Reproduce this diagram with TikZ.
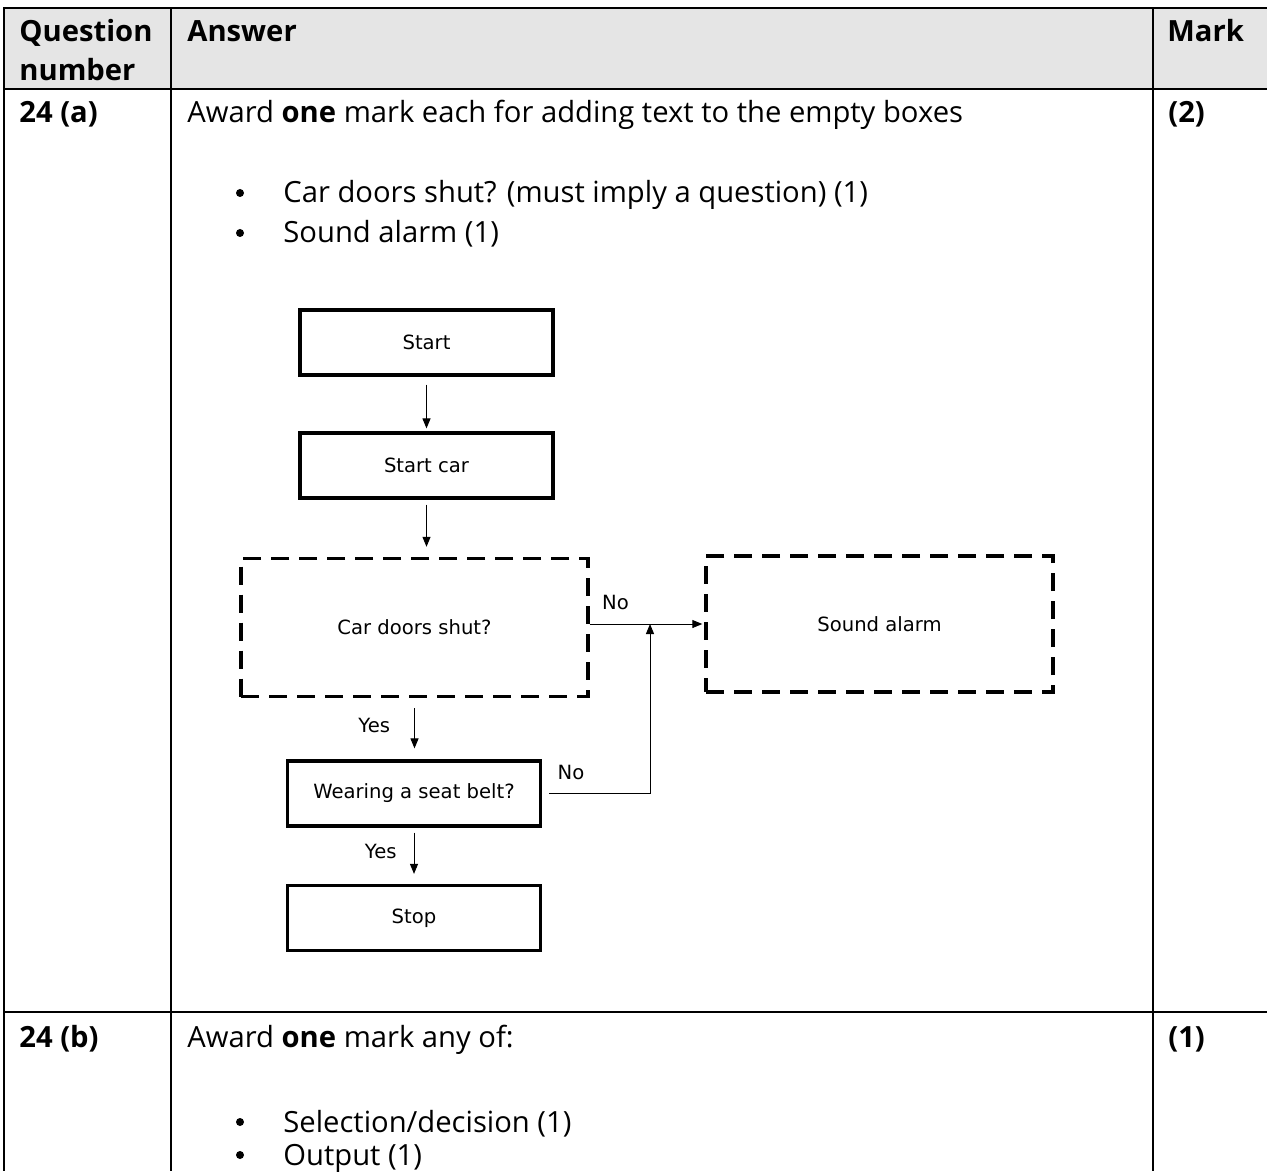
\documentclass[tikz,border=0pt]{standalone}
\usepackage{fontspec}
\setmainfont{Open Sans}
\newfontfamily\chartfont{DejaVu Sans}
\usetikzlibrary{arrows.meta,positioning}

\begin{document}
\begin{tikzpicture}[x=0.5pt,y=-0.5pt,
  cell/.style={anchor=base west,inner sep=0pt,font=\fontsize{14.6}{17}\selectfont},
  head/.style={cell,font=\fontsize{14.6}{17}\selectfont\bfseries},
  dot/.style={circle,fill,inner sep=0pt,minimum size=4pt},
  box/.style={rectangle,draw,line width=1.6pt,minimum width=126.5pt,minimum height=32.5pt,font=\chartfont\fontsize{9.8}{12}\selectfont},
  dbox/.style={box,line width=1.7pt,dash pattern=on 9pt off 5pt,minimum width=173.5pt,minimum height=69pt},
  arr/.style={-{Triangle[length=5pt,width=4pt]},line width=0.5pt},
  lbl/.style={font=\chartfont\fontsize{9.8}{12}\selectfont,inner sep=0pt}]
\useasboundingbox (0,0) rectangle (1267,1171);

% Table frame
\fill[gray!20] (4,8) rectangle (1267,89);
\draw[line width=1.2pt] (1267,8) -- (4,8) -- (4,1171);
\draw[line width=1.4pt] (4,89) -- (1267,89);
\draw[line width=1.4pt] (4,1012) -- (1267,1012);
\draw[line width=1.2pt] (171,8) -- (171,1171);
\draw[line width=1.2pt] (1153,8) -- (1153,1171);

% Header row
\node[head] (q1) at (19,42) {Question};
\node[head] (q2) at (19,81) {number};
\node[head] (ans) at (187,42) {Answer};
\node[head] (mark) at (1167,42) {Mark};

% Row 24 (a)
\node[head] (qa) at (19,123) {24 (a)};
\node[cell] (ta) at (187,123) {Award \textbf{one} mark each for adding text to the empty boxes};
\node[head] (ma) at (1168,123) {(2)};
\node[dot] (ba1) at (240,193) {};
\node[cell] (ia1) at (283,203) {Car doors shut? (must imply a question) (1)};
\node[dot] (ba2) at (240,233) {};
\node[cell] (ia2) at (283,243) {Sound alarm (1)};

% Flowchart
\node[box] (start) at (426.5,342.5) {Start};
\node[box] (startcar) at (426.5,465.5) {Start car};
\node[dbox] (doors) at (414.5,627.5) {Car doors shut?};
\node[dbox,minimum height=68pt] (alarm) at (879.5,624) {Sound alarm};
\node[box] (belt) at (414,793.5) {Wearing a seat belt?};
\node[box] (stop) at (414,918) {Stop};
\coordinate (join) at (650,624);

\draw[arr,shorten <=4pt,shorten >=1.5pt] (start) -- (startcar);
\draw[arr,shorten <=2.5pt,shorten >=5pt] (startcar.south) -- (startcar.south |- doors.north);
\draw[arr,shorten >=1pt] (doors.east |- alarm.west) -- node[lbl,pos=0,anchor=south west,xshift=6pt,yshift=7pt] {No} (alarm.west);
\draw[arr,shorten <=5pt,shorten >=5.5pt] (doors.south) -- node[lbl,pos=0.45,left=12pt] {Yes} (doors.south |- belt.north);
\draw[arr,shorten <=3.5pt] (belt.east) -| node[lbl,pos=0,anchor=south west,xshift=7.5pt,yshift=6.5pt] {No} (join);
\draw[arr,shorten <=2.5pt,shorten >=5pt] (belt) -- node[lbl,pos=0.43,left=8.5pt] {Yes} (stop);

% Row 24 (b)
\node[head] (qb) at (19,1047) {24 (b)};
\node[cell] (tb) at (187,1047) {Award \textbf{one} mark any of:};
\node[head] (mb) at (1168,1047) {(1)};
\node[dot] (bb1) at (240,1122) {};
\node[cell] (ib1) at (283,1132) {Selection/decision (1)};
\node[dot] (bb2) at (240,1155) {};
\node[cell] (ib2) at (283,1165) {Output (1)};
\end{tikzpicture}
\end{document}
